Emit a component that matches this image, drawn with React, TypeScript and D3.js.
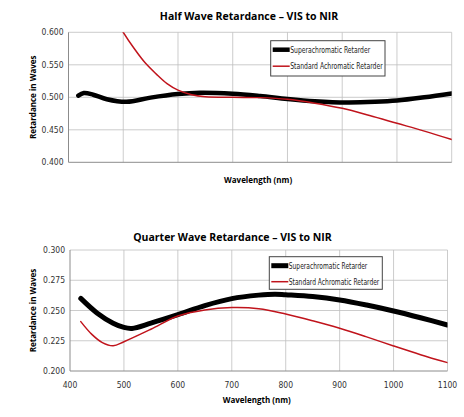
import React from "react";
import * as d3 from "d3";

// wavelength samples (nm)
const halfWaveSuperX = [418, 428, 445, 470, 506, 550, 600, 640, 700, 750, 800, 850, 908, 960, 1000, 1050, 1100];
const halfWaveSuperY = [0.5025, 0.5065, 0.504, 0.497, 0.493, 0.4995, 0.505, 0.507, 0.5055, 0.502, 0.4975, 0.494, 0.492, 0.493, 0.495, 0.5, 0.506];

const halfWaveStdX = [485, 500, 520, 540, 560, 580, 600, 625, 650, 700, 750, 800, 850, 900, 950, 1000, 1050, 1100];
const halfWaveStdY = [0.622, 0.6, 0.575, 0.553, 0.536, 0.521, 0.511, 0.504, 0.501, 0.5, 0.4995, 0.497, 0.491, 0.483, 0.472, 0.46, 0.448, 0.435];

const quarterSuperX = [420, 450, 480, 500, 515, 550, 600, 650, 700, 750, 780, 800, 850, 900, 950, 1000, 1050, 1100];
const quarterSuperY = [0.26, 0.248, 0.2395, 0.236, 0.2352, 0.2395, 0.2465, 0.254, 0.2598, 0.2627, 0.2635, 0.263, 0.2615, 0.2587, 0.2545, 0.2496, 0.244, 0.238];

const quarterStdX = [420, 440, 460, 480, 500, 550, 600, 650, 700, 750, 800, 850, 900, 950, 1000, 1050, 1100];
const quarterStdY = [0.2408, 0.2305, 0.2235, 0.2209, 0.2242, 0.2345, 0.2455, 0.2505, 0.2524, 0.2515, 0.2471, 0.2415, 0.2353, 0.2282, 0.2207, 0.2135, 0.2069];

const xTicks = [400, 500, 600, 700, 800, 900, 1000, 1100];
const halfYTicks = [0.4, 0.45, 0.5, 0.55, 0.6];
const quarterYTicks = [0.2, 0.225, 0.25, 0.275, 0.3];

const legendLabels = ["Superachromatic Retarder", "Standard Achromatic Retarder"];

const BLACK = "#000";
const RED = "#c0141c";
const narrow = "'DejaVu Sans Condensed', 'Liberation Sans Narrow', sans-serif";
const bold = "'Open Sans', 'Liberation Sans', sans-serif";

type PanelProps = {
  id: string;
  title: string;
  titleX: number;
  titleY: number;
  left: number;
  right: number;
  top: number;
  bottom: number;
  yDomain: [number, number];
  yTicks: number[];
  showXTicks: boolean;
  xLabelY: number;
  series: { x: number[]; y: number[]; color: string; width: number }[];
  legend: { x: number; y: number; w: number; h: number; gap: number; lens: number[] };
};

const Panel = (p: PanelProps) => {
  const x = d3.scaleLinear().domain([400, 1100]).range([p.left, p.right]);
  const y = d3.scaleLinear().domain(p.yDomain).range([p.bottom, p.top]);
  const line = d3
    .line<[number, number]>()
    .x((d) => x(d[0]))
    .y((d) => y(d[1]))
    .curve(d3.curveCatmullRom.alpha(0.5));
  const midY = (p.top + p.bottom) / 2;

  return (
    <g>
      <defs>
        <clipPath id={p.id}>
          <rect x={p.left} y={p.top} width={p.right - p.left} height={p.bottom - p.top} />
        </clipPath>
      </defs>
      <text x={p.titleX} y={p.titleY} textAnchor="middle" fontFamily={bold} fontWeight="bold" fontSize={10.5}>
        {p.title}
      </text>
      {xTicks.slice(1).map((t) => (
        <line key={t} x1={x(t)} x2={x(t)} y1={p.top} y2={p.bottom} stroke="#bfbfbf" strokeWidth={0.8} />
      ))}
      {p.yTicks.slice(1).map((t) => (
        <line key={t} x1={p.left} x2={p.right} y1={y(t)} y2={y(t)} stroke="#bfbfbf" strokeWidth={0.8} />
      ))}
      <line x1={p.left} x2={p.left} y1={p.top} y2={p.bottom} stroke="#8c8c8c" strokeWidth={1} />
      <line x1={p.left} x2={p.right} y1={p.bottom} y2={p.bottom} stroke="#8c8c8c" strokeWidth={1} />
      {p.yTicks.map((t) => (
        <text key={t} x={p.left - 5} y={y(t) + 3} textAnchor="end" fontFamily={narrow} fontSize={8.5} fill="#333">
          {d3.format(".3f")(t)}
        </text>
      ))}
      {p.showXTicks &&
        xTicks.map((t) => (
          <text key={t} x={x(t)} y={p.bottom + 17} textAnchor="middle" fontFamily={narrow} fontSize={8.5} fill="#333">
            {t}
          </text>
        ))}
      <text
        transform={`translate(36,${midY}) rotate(-90)`}
        textAnchor="middle"
        fontFamily={bold}
        fontWeight="bold"
        fontSize={8}
      >
        Retardance in Waves
      </text>
      <text x={(p.left + p.right) / 2 - 2} y={p.xLabelY} textAnchor="middle" fontFamily={bold} fontWeight="bold" fontSize={8}>
        Wavelength (nm)
      </text>
      <g clipPath={`url(#${p.id})`}>
        {p.series.map((s, i) => (
          <path
            key={i}
            d={line(s.x.map((v, j) => [v, s.y[j]] as [number, number])) ?? ""}
            fill="none"
            stroke={s.color}
            strokeWidth={s.width}
            strokeLinecap="round"
          />
        ))}
      </g>
      <rect x={p.legend.x} y={p.legend.y} width={p.legend.w} height={p.legend.h} fill="#fff" stroke="#444" strokeWidth={1} />
      {legendLabels.map((lab, i) => {
        const ly = p.legend.y + 9 + i * p.legend.gap;
        return (
          <g key={lab}>
            <line
              x1={p.legend.x + 2}
              x2={p.legend.x + 19}
              y1={ly}
              y2={ly}
              stroke={p.series[i].color}
              strokeWidth={p.series[i].width}
            />
            <text
              x={p.legend.x + 19.5}
              y={ly + 3}
              fontFamily={narrow}
              fontSize={8.5}
              fill="#222"
              textLength={p.legend.lens[i]}
              lengthAdjust="spacingAndGlyphs"
            >
              {lab}
            </text>
          </g>
        );
      })}
    </g>
  );
};

const App = () => (
  <svg width={464} height={417} style={{ position: "absolute", left: 0, top: 0, background: "#fff" }}>
    <Panel
      id="half"
      title="Half Wave Retardance – VIS to NIR"
      titleX={249}
      titleY={20}
      left={68.5}
      right={451.7}
      top={32.3}
      bottom={162.3}
      yDomain={[0.4, 0.6]}
      yTicks={halfYTicks}
      showXTicks={false}
      xLabelY={183}
      series={[
        { x: halfWaveSuperX, y: halfWaveSuperY, color: BLACK, width: 4.5 },
        { x: halfWaveStdX, y: halfWaveStdY, color: RED, width: 1.5 },
      ]}
      legend={{ x: 270.7, y: 40.7, w: 114.3, h: 35.3, gap: 16.5, lens: [80, 92.5] }}
    />
    <Panel
      id="quarter"
      title="Quarter Wave Retardance – VIS to NIR"
      titleX={232.5}
      titleY={240.5}
      left={70}
      right={447.5}
      top={250}
      bottom={371}
      yDomain={[0.2, 0.3]}
      yTicks={quarterYTicks}
      showXTicks={true}
      xLabelY={403}
      series={[
        { x: quarterSuperX, y: quarterSuperY, color: BLACK, width: 5 },
        { x: quarterStdX, y: quarterStdY, color: RED, width: 1.5 },
      ]}
      legend={{ x: 269.3, y: 256.7, w: 113, h: 32.6, gap: 16, lens: [78.5, 90.5] }}
    />
  </svg>
);

export default App;
